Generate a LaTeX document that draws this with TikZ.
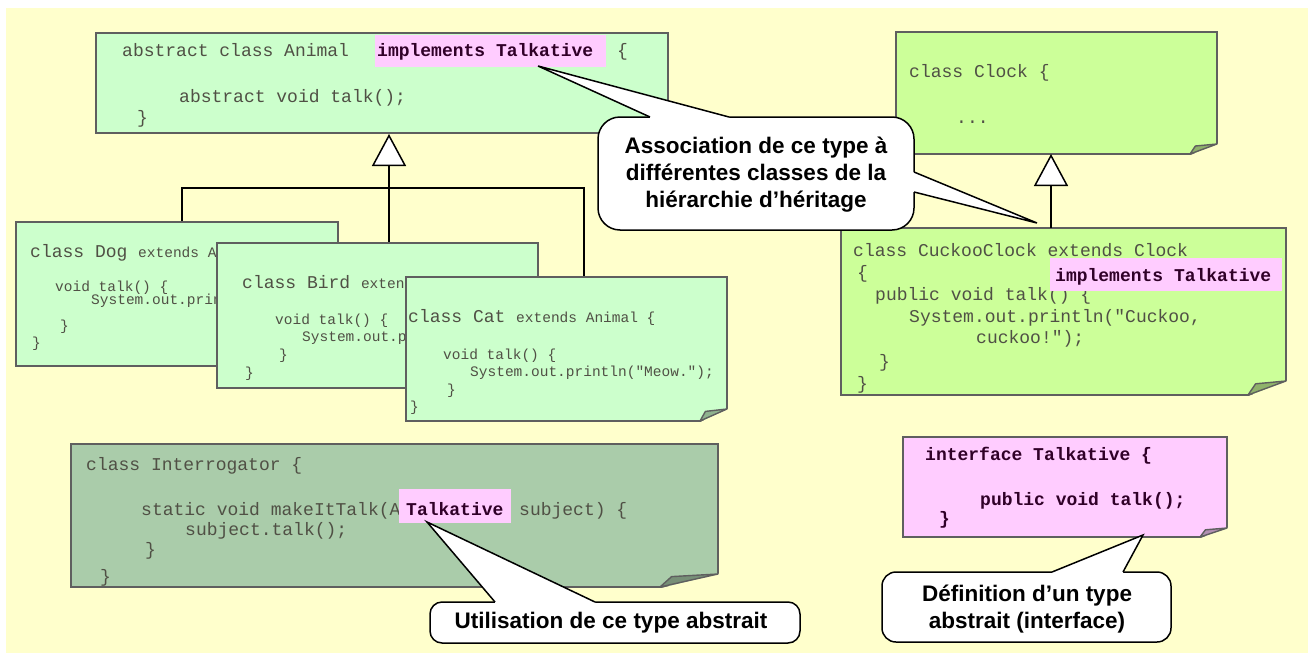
\documentclass[tikz,border=0pt]{standalone}
\usepackage{fontspec}
\usetikzlibrary{arrows.meta}
\newfontfamily\codefont{Liberation Mono}
\newfontfamily\callfont{Liberation Sans}
\newcommand\codesmall{\fontsize{14.5}{16}\selectfont}
\definecolor{bgy}{HTML}{FFFFCC}
\definecolor{grA}{HTML}{CCFFCC}
\definecolor{grB}{HTML}{CCFF99}
\definecolor{grC}{HTML}{AACCAA}
\definecolor{pinkhl}{HTML}{FFCCFF}
\definecolor{boxgray}{HTML}{5F5F5F}
\definecolor{codegray}{HTML}{505045}
\definecolor{boldtxt}{HTML}{300028}
\newcommand\foldc[5]{%
  \fill[bgy] ({#1-#3-0.5},{#2+1.5}) -- ({#1+1.5},{#2-#4-0.5}) -- ({#1+1.5},{#2+1.5}) -- cycle;
  \filldraw[draw=boxgray, line width=1.4pt, line join=round, fill=#5] ({#1-#3},#2) -- ({#1-0.8*#3},{#2-0.8*#4}) -- (#1,{#2-#4}) -- cycle;
}
\tikzset{
  box/.style={draw=boxgray, line width=1.6pt, rectangle, inner sep=0pt, outer sep=0pt, anchor=north west},
  code/.style={font=\codefont\fontsize{18}{20}\selectfont, text=codegray, inner sep=0pt, anchor=base west},
  codes/.style={font=\codefont\codesmall, text=codegray, inner sep=0pt, anchor=base west},
  codeb/.style={font=\codefont\bfseries\fontsize{18}{20}\selectfont, text=boldtxt, inner sep=0pt, anchor=base west},
  hl/.style={fill=pinkhl},
  bubble/.style={draw=black, fill=white, line width=1.5pt},
  wedge/.style={draw=black, line width=1.5pt, line join=miter},
  bubtext/.style={font=\callfont\bfseries\fontsize{22.5}{27}\selectfont, align=center, inner sep=0pt},
  inh/.style={draw=black, line width=1.5pt},
  inhtip/.style={-{Triangle[length=32pt,width=34pt,fill=white,line width=1.5pt]}},
}
\begin{document}
\begin{tikzpicture}[x=1pt,y=-1pt]
\useasboundingbox (0,0) rectangle (1308,653);
\fill[white] (0,0) rectangle (1308,653);
\fill[bgy] (6,8) rectangle (1308,653);

% ---------- Animal ----------
\node[box, fill=grA, minimum width=572pt, minimum height=100pt] (animal) at (96,33) {};
\node[code] (an1) at (122,56) {abstract class Animal};
\fill[hl] (375,35) rectangle (606,67);
\node[codeb] (an2) at (377,56) {implements Talkative};
\node[code] (an3) at (617,56) {\{};
\node[code] (an4) at (179,102) {abstract void talk();};
\node[code] (an5) at (137,123) {\}};

% ---------- inheritance lines ----------
\coordinate (apex1) at (389,134);
\coordinate (dogtop) at (182,222);
\coordinate (cattop) at (584,277);
\coordinate (birdtop) at (389,243);
\draw[inh] (dogtop) -- ++(0,-34) -| (cattop);
\draw[inh, inhtip] (birdtop) -- (apex1);

% ---------- Dog ----------
\node[box, fill=grA, minimum width=322pt, minimum height=144pt] (dog) at (16,222) {};
\foldc{338}{366}{27}{11}{grA!70!black}
\node[code] (d1) at (30,257) {class Dog \codesmall extends A};
\node[codes] (d2) at (55,291) {void talk() \{};
\node[codes] (d3) at (91,304) {System.out.prin};
\node[codes] (d4) at (60,330) {\}};
\node[codes] (d5) at (32,347) {\}};

% ---------- Bird ----------
\node[box, fill=grA, minimum width=321pt, minimum height=145pt] (bird) at (217,243) {};
\foldc{538}{388}{27}{11}{grA!70!black}
\node[code] (b1) at (242,288) {class Bird \codesmall exten};
\node[codes] (b2) at (275,324) {void talk() \{};
\node[codes] (b3) at (302,341) {System.out.p};
\node[codes] (b4) at (279,359) {\}};
\node[codes] (b5) at (245,377) {\}};

% ---------- Cat ----------
\node[box, fill=grA, minimum width=321pt, minimum height=144pt] (cat) at (406,277) {};
\foldc{727}{421}{27}{12}{grA!70!black}
\node[code] (c1) at (408,322) {class Cat \codesmall extends Animal \{};
\node[codes] (c2) at (443,359) {void talk() \{};
\node[codes] (c3) at (470,376) {System.out.println("Meow.");};
\node[codes] (c4) at (447,394) {\}};
\node[codes] (c5) at (410,411) {\}};

% ---------- Clock ----------
\node[box, fill=grB, minimum width=321pt, minimum height=122pt] (clock) at (896,32) {};
\foldc{1217}{154}{27}{10}{grB!70!black}
\node[code] (k1) at (909,77) {class Clock \{};
\node[code] (k2) at (956,123) {...};

% ---------- CuckooClock ----------
\node[box, fill=grB, minimum width=445pt, minimum height=167pt] (cuckoo) at (841,228) {};
\foldc{1286}{395}{38}{14}{grB!70!black}
\node[code] (q1) at (853,256) {class CuckooClock extends Clock};
\node[code] (q2) at (857,278) {\{};
\node[code] (q3) at (875,300) {public void talk() \{};
\fill[hl] (1050,258) rectangle (1282,291);
\node[codeb] (q4) at (1055,281) {implements Talkative};
\node[code] (q5) at (909,322) {System.out.println("Cuckoo,};
\node[code] (q6) at (976,343) {cuckoo!");};
\node[code] (q7) at (879,367) {\}};
\node[code] (q8) at (857,389) {\}};

\coordinate (apex2) at (1051,154);
\coordinate (cuckootop) at (1051,228);
\draw[inh, inhtip] (cuckootop) -- (apex2);

% ---------- Association callout ----------
\coordinate (tipA) at (538,66);
\coordinate (tipB) at (1037,223);
\draw[bubble, rounded corners=22pt] (598,117) rectangle (914,230);
\fill[white] (650,117) -- (tipA) -- (729,117) -- (729,119.5) -- (650,119.5) -- cycle;
\draw[wedge] (650,117) -- (tipA) -- (729,117);
\fill[white] (914,172) -- (tipB) -- (914,192) -- (911.5,192) -- (911.5,172) -- cycle;
\draw[wedge] (914,172) -- (tipB) -- (914,192);
\node[bubtext] (assoc) at (756,175) {Association de ce type à\\différentes classes de la\\hiérarchie d’héritage};

% ---------- Interrogator ----------
\node[box, fill=grC, minimum width=647pt, minimum height=143pt] (interr) at (71,444) {};
\foldc{718}{587}{58}{13}{grC!70!black}
\node[code] (i1) at (86,470) {class Interrogator \{};
\node[code] (i2) at (141,515) {static void makeItTalk(A};
\fill[hl] (399,489) rectangle (511,523);
\node[codeb] (i3) at (406,515) {Talkative};
\node[code] (i4) at (519,515) {subject) \{};
\node[code] (i5) at (185,535) {subject.talk();};
\node[code] (i6) at (145,555) {\}};
\node[code] (i7) at (100,582) {\}};

% ---------- Utilisation callout ----------
\coordinate (tipC) at (427,522);
\draw[bubble, rounded corners=12pt] (430,602) rectangle (800,643);
\fill[white] (495,602) -- (tipC) -- (595,602) -- (595,604.5) -- (495,604.5) -- cycle;
\draw[wedge] (495,602) -- (tipC) -- (595,602);
\node[bubtext] (util) at (611,623) {Utilisation de ce type abstrait};

% ---------- Interface ----------
\node[box, fill=pinkhl, minimum width=324pt, minimum height=100pt] (iface) at (903,437) {};
\foldc{1227}{537}{27}{9}{pinkhl!70!black}
\node[codeb] (f1) at (925,460) {interface Talkative \{};
\node[codeb] (f2) at (980,505) {public void talk();};
\node[codeb] (f3) at (939,524) {\}};

% ---------- Definition callout ----------
\coordinate (tipD) at (1143,535);
\draw[bubble, rounded corners=14pt] (882,572) rectangle (1171,642);
\fill[white] (1052,572) -- (tipD) -- (1123,572) -- (1123,574.5) -- (1052,574.5) -- cycle;
\draw[wedge] (1052,572) -- (tipD) -- (1123,572);
\node[bubtext] (defn) at (1027,609) {Définition d’un type\\abstrait (interface)};
\end{tikzpicture}
\end{document}
